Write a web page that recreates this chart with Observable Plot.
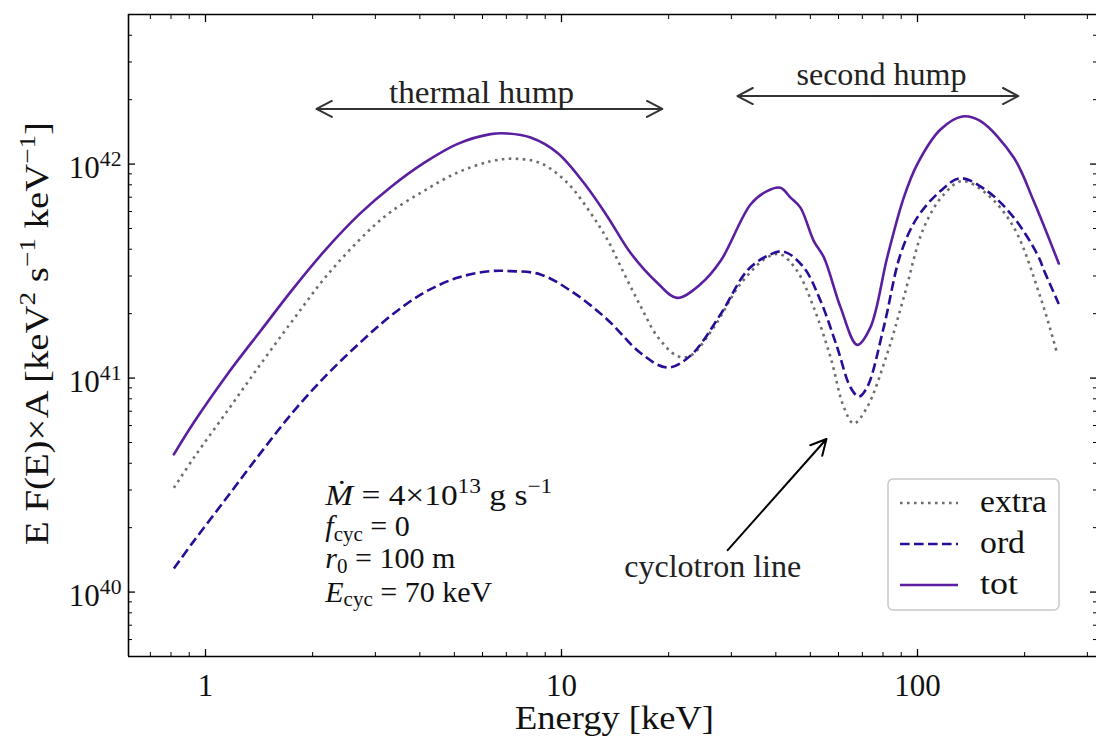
<!DOCTYPE html>
<html><head><meta charset="utf-8">
<script src="https://cdn.jsdelivr.net/npm/d3@7"></script>
<script src="https://cdn.jsdelivr.net/npm/@observablehq/plot@0.6"></script>
<style>
html,body{margin:0;padding:0;background:#fff;}
#chart{width:1096px;height:740px;}
svg text{font-family:"Liberation Serif","DejaVu Serif",serif;}
</style></head><body><div id="chart"></div>
<script>
// ---- data ----
const totE = [0.815, 0.927, 1.151, 1.427, 1.770, 2.197, 2.725, 3.31, 4.10, 5.09, 6.32, 7.04, 8.19, 9.73, 11.55, 13.44, 15.62, 18.57, 21.1, 24.6, 28.0, 34.0, 37.8, 41.2, 44.0, 46.9, 51.1, 54.6, 60.8, 67.7, 73.8, 82.2, 91.5, 99.8, 116, 133.6, 150, 186.5, 212, 249.4];
const totV = [4.40e40, 6.20e40, 1.04e41, 1.66e41, 2.64e41, 4.06e41, 5.90e41, 7.80e41, 1.01e42, 1.24e42, 1.38e42, 1.39e42, 1.33e42, 1.13e42, 8.18e41, 5.71e41, 3.85e41, 2.79e41, 2.37e41, 2.75e41, 3.53e41, 6.49e41, 7.48e41, 7.75e41, 6.97e41, 6.26e41, 4.38e41, 3.66e41, 2.14e41, 1.43e41, 1.73e41, 3.66e41, 6.97e41, 9.97e41, 1.45e42, 1.67e42, 1.59e42, 1.07e42, 6.72e41, 3.43e41];
const extraE = [0.815, 0.927, 1.151, 1.427, 1.770, 2.197, 2.846, 3.31, 4.10, 5.09, 6.32, 7.35, 8.73, 10.38, 12.06, 13.44, 14.96, 16.67, 18.57, 21.1, 23.0, 26.8, 31.8, 37.8, 41.2, 45.9, 51.1, 57.0, 62.1, 66.2, 72.2, 82.2, 91.5, 104.2, 118.6, 133.6, 157, 186.5, 221.6, 246.9];
const extraV = [3.07e40, 4.24e40, 7.01e40, 1.16e41, 1.89e41, 3.03e41, 4.81e41, 5.97e41, 7.48e41, 9.11e41, 1.03e42, 1.06e42, 1.01e42, 8.18e41, 5.92e41, 4.45e41, 3.10e41, 2.17e41, 1.57e41, 1.27e41, 1.27e41, 1.73e41, 2.75e41, 3.66e41, 3.79e41, 3.17e41, 2.14e41, 1.25e41, 7.31e40, 6.14e40, 7.31e40, 1.30e41, 2.38e41, 5.05e41, 7.22e41, 8.33e41, 7.22e41, 5.05e41, 2.38e41, 1.30e41];
const ordE = [0.815, 0.927, 1.151, 1.427, 1.770, 2.197, 2.725, 3.31, 4.10, 5.09, 6.32, 7.19, 8.73, 10.83, 13.44, 16.67, 19.82, 23.0, 28.0, 33.2, 37.8, 42.1, 47.9, 53.4, 59.5, 64.8, 68.4, 72.2, 80.4, 89.6, 99.8, 116, 132, 157, 186.5, 217, 229, 249.4];
const ordV = [1.29e40, 1.73e40, 2.78e40, 4.46e40, 7.01e40, 1.04e41, 1.47e41, 1.95e41, 2.50e41, 2.94e41, 3.16e41, 3.16e41, 3.05e41, 2.50e41, 1.88e41, 1.31e41, 1.12e41, 1.27e41, 1.99e41, 3.17e41, 3.72e41, 3.90e41, 3.29e41, 2.30e41, 1.39e41, 9.06e40, 8.20e40, 9.06e40, 1.73e41, 3.79e41, 5.62e41, 7.48e41, 8.58e41, 7.48e41, 5.62e41, 3.79e41, 3.06e41, 2.22e41];

const seriesNames = ["extra", "ord", "tot"];
const majorX = [1, 10, 100];
const minorX = [0.7, 0.8, 0.9, 2, 3, 4, 5, 6, 7, 8, 9, 20, 30, 40, 50, 60, 70, 80, 90, 200, 300];
const majorY = [1e40, 1e41, 1e42];
const minorY = [6e39, 7e39, 8e39, 9e39, 2e40, 3e40, 4e40, 5e40, 6e40, 7e40, 8e40, 9e40, 2e41, 3e41, 4e41, 5e41, 6e41, 7e41, 8e41, 9e41, 2e42, 3e42, 4e42];
const xTickLabels = ["1", "10", "100"];
const yTickLabels = ["10^{40}", "10^{41}", "10^{42}"];
const xLabel = "Energy [keV]";
const yLabel = "E F(E)×A [keV^{2} s^{−1} keV^{−1}]";
const paramLines = ["*M\u0307* = 4×10^{13} g s^{−1}", "*f*_{cyc} = 0", "*r*_{0} = 100 m", "*E*_{cyc} = 70 keV"];
const annoLabels = ["thermal hump", "second hump", "cyclotron line"];

// ---- build ----
const zip = (E, V) => E.map((e, i) => ({E: e, V: V[i]}));
const tot = zip(totE, totV), extra = zip(extraE, extraV), ord = zip(ordE, ordV);
const xDom = [0.6077, 318.3], yDom = [5e39, 5e42];
const FS = 31;
const colTot = "#5a1e9f", colOrd = "#2a0c97", colExtra = "#6e6e6e";
const dashExtra = "2.6,4.4", dashOrd = "9.6,4.4";

const plot = Plot.plot({
  width: 1096, height: 740,
  marginLeft: 128, marginRight: 0, marginTop: 14, marginBottom: 84,
  style: {background: "#fff", color: "#000"},
  x: {type: "log", domain: xDom},
  y: {type: "log", domain: yDom},
  marks: [
    // ticks (inward)
    Plot.axisX(majorX, {anchor: "bottom", tickSize: -7, tickFormat: () => "", label: null, strokeWidth: 1.3}),
    Plot.axisX(minorX, {anchor: "bottom", tickSize: -4, tickFormat: () => "", label: null, strokeWidth: 1}),
    Plot.axisX(majorX, {anchor: "top", tickSize: -7, tickFormat: () => "", label: null, strokeWidth: 1.3}),
    Plot.axisX(minorX, {anchor: "top", tickSize: -4, tickFormat: () => "", label: null, strokeWidth: 1}),
    Plot.axisY(majorY, {anchor: "left", tickSize: -7, tickFormat: () => "", label: null, strokeWidth: 1.3}),
    Plot.axisY(minorY, {anchor: "left", tickSize: -4, tickFormat: () => "", label: null, strokeWidth: 1}),
    Plot.axisY(majorY, {anchor: "right", tickSize: -7, tickFormat: () => "", label: null, strokeWidth: 1.3}),
    Plot.axisY(minorY, {anchor: "right", tickSize: -4, tickFormat: () => "", label: null, strokeWidth: 1}),
    // spines
    Plot.ruleY([yDom[0]], {stroke: "#000", strokeWidth: 1.6}),
    Plot.ruleY([yDom[1]], {stroke: "#000", strokeWidth: 1.6}),
    Plot.ruleX([xDom[0]], {stroke: "#000", strokeWidth: 1.6}),
    // tick labels
    Plot.text(majorX, {x: d => d, frameAnchor: "bottom", lineAnchor: "top", textAnchor: "middle", dy: 17, text: (d, i) => xTickLabels[i], fontSize: FS, fill: "#111"}),
    Plot.text(majorY, {y: d => d, frameAnchor: "left", textAnchor: "end", lineAnchor: "middle", dx: -7, dy: 4, text: (d, i) => yTickLabels[i], fontSize: FS, fill: "#111"}),
    // axis labels
    Plot.text([xLabel], {frameAnchor: "bottom", textAnchor: "middle", lineAnchor: "middle", dx: 2, dy: 62, text: d => d, fontSize: 34, fill: "#111"}),
    Plot.text([yLabel], {frameAnchor: "left", textAnchor: "middle", lineAnchor: "middle", rotate: -90, dx: -91, dy: -2, text: d => d, fontSize: 33, fill: "#111"}),
    // data
    Plot.line(extra, {x: "E", y: "V", stroke: colExtra, strokeWidth: 2.6, strokeDasharray: dashExtra, strokeLinecap: "butt", curve: "catmull-rom"}),
    Plot.line(ord, {x: "E", y: "V", stroke: colOrd, strokeWidth: 2.6, strokeDasharray: dashOrd, strokeLinecap: "butt", curve: "catmull-rom"}),
    Plot.line(tot, {x: "E", y: "V", stroke: colTot, strokeWidth: 2.6, curve: "catmull-rom"}),
    // annotations: double arrows
    Plot.arrow([{a: 6.27, b: 2.05}, {a: 6.27, b: 19.2}], {x1: "a", x2: "b", y1: () => 1.81e42, y2: () => 1.81e42, stroke: "#333", strokeWidth: 2, headLength: 13, headAngle: 55}),
    Plot.arrow([{a: 77.4, b: 31.2}, {a: 77.4, b: 192}], {x1: "a", x2: "b", y1: () => 2.08e42, y2: () => 2.08e42, stroke: "#333", strokeWidth: 2, headLength: 13, headAngle: 55}),
    Plot.arrow([{x1: 29.3, y1: 1.57e40, x2: 55.5, y2: 5.19e40}], {x1: "x1", y1: "y1", x2: "x2", y2: "y2", stroke: "#000", strokeWidth: 2, headLength: 13, headAngle: 55}),
    Plot.text([{x: 5.96, y: 2.15e42}, {x: 79.2, y: 2.61e42}, {x: 26.6, y: 1.31e40}], {x: "x", y: "y", text: (d, i) => annoLabels[i], fontSize: FS, fill: "#222"}),
    // parameter block
    Plot.text([2.84e40, 2.03e40, 1.44e40, 1.0e40], {x: () => 2.17, y: d => d, text: (d, i) => paramLines[i], textAnchor: "start", fontSize: 30, fill: "#111"})
  ]
});
document.getElementById("chart").appendChild(plot);

// ---- rich text (italic, sub/superscripts) ----
const NS = "http://www.w3.org/2000/svg";
function rich(el, str) {
  const fs = parseFloat(el.getAttribute("font-size") || getComputedStyle(el).fontSize) || FS;
  el.textContent = "";
  const parts = str.match(/(\*[^*]+\*|\^\{[^}]+\}|_\{[^}]+\}|[^*^_]+)/g);
  let shift = 0;
  for (const p of parts) {
    let kind = "", t = p, ital = false;
    if (p.startsWith("*")) { ital = true; t = p.slice(1, -1); }
    else if (p.startsWith("^{")) { kind = "sup"; t = p.slice(2, -1); }
    else if (p.startsWith("_{")) { kind = "sub"; t = p.slice(2, -1); }
    const ts = document.createElementNS(NS, "tspan");
    const target = kind === "sup" ? -0.4 * fs : kind === "sub" ? 0.16 * fs : 0;
    ts.setAttribute("dy", (target - shift).toFixed(1));
    shift = target;
    if (kind) ts.setAttribute("font-size", (0.7 * fs).toFixed(1));
    if (ital) ts.setAttribute("font-style", "italic");
    ts.textContent = t;
    el.appendChild(ts);
  }
}
// widths of the reference's (wider) serif texts, matched by stretching
const fitWidth = new Map([
  [annoLabels[0], 185], [annoLabels[1], 170], [annoLabels[2], 177],
  [xLabel, 199], [yLabel, 423], [paramLines[0], 227]
]);
const richStrings = [...yTickLabels, yLabel, ...paramLines];
plot.querySelectorAll("text").forEach(el => {
  const s = el.textContent;
  if (richStrings.includes(s)) rich(el, s);
  if (fitWidth.has(s)) {
    el.setAttribute("textLength", fitWidth.get(s));
    el.setAttribute("lengthAdjust", "spacingAndGlyphs");
  }
});

// ---- legend (inside, lower right) ----
const lg = document.createElementNS(NS, "g");
lg.setAttribute("font-family", '"Liberation Serif","DejaVu Serif",serif');
lg.setAttribute("text-anchor", "start");
const box = document.createElementNS(NS, "rect");
Object.entries({x: 888, y: 479, width: 171, height: 131, rx: 5, fill: "#fff", "fill-opacity": 0.85, stroke: "#c8c8c8", "stroke-width": 1.5}).forEach(([k, v]) => box.setAttribute(k, v));
lg.appendChild(box);
const styles = {
  extra: {stroke: colExtra, dash: dashExtra},
  ord: {stroke: colOrd, dash: dashOrd},
  tot: {stroke: colTot, dash: null}
};
const legendWidths = {extra: 67, ord: 45, tot: 38};
seriesNames.forEach((name, i) => {
  const yy = 503 + i * 41;
  const ln = document.createElementNS(NS, "line");
  Object.entries({x1: 900, x2: 958, y1: yy, y2: yy, stroke: styles[name].stroke, "stroke-width": 2.6}).forEach(([k, v]) => ln.setAttribute(k, v));
  if (styles[name].dash) ln.setAttribute("stroke-dasharray", styles[name].dash);
  lg.appendChild(ln);
  const tx = document.createElementNS(NS, "text");
  tx.setAttribute("x", 980); tx.setAttribute("y", yy + 9);
  tx.setAttribute("text-anchor", "start");
  tx.setAttribute("font-size", FS); tx.setAttribute("fill", "#111");
  tx.setAttribute("textLength", legendWidths[name]);
  tx.setAttribute("lengthAdjust", "spacingAndGlyphs");
  tx.textContent = name;
  lg.appendChild(tx);
});
plot.appendChild(lg);
</script></body></html>
